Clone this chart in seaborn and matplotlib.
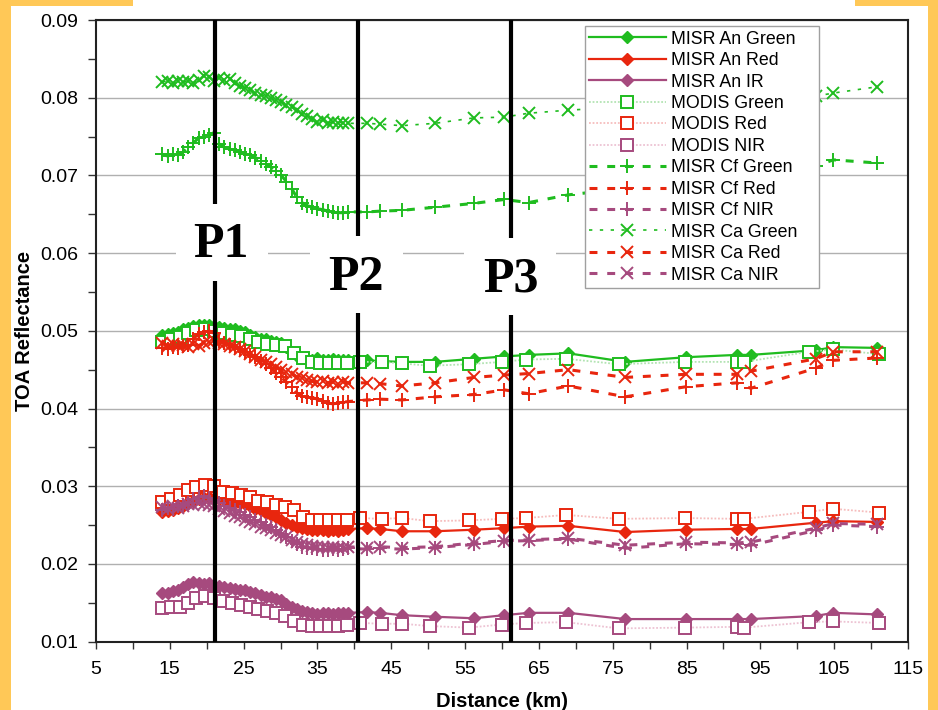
import matplotlib
matplotlib.use("Agg")
import matplotlib.pyplot as plt
from matplotlib.patches import Rectangle
from matplotlib.ticker import FixedLocator, FormatStrFormatter
import seaborn as sns

# ---- distance samples (km) ----
misr_km = [14.0, 14.7, 15.4, 16.1, 16.8, 17.5, 18.2, 18.9, 19.6, 20.3, 21.0, 21.7,
           22.4, 23.1, 23.8, 24.5, 25.2, 25.9, 26.6, 27.3, 28.0, 28.7, 29.4, 30.1,
           30.8, 31.5, 32.2, 32.9, 33.6, 34.3, 35.0, 35.7, 36.4, 37.1, 37.8, 38.5,
           39.2, 41.7, 43.5, 46.4, 50.9, 56.2, 60.3, 63.6, 69.0, 76.7, 84.9, 91.8,
           93.7, 102.5, 104.9, 110.8]
modis_km = [14.0, 15.2, 16.4, 17.5, 18.6, 19.8, 21.0, 22.2, 23.4, 24.6, 25.8, 27.0,
            28.2, 29.4, 30.6, 31.8, 33.0, 34.2, 35.4, 36.6, 37.8, 39.0, 40.8, 43.7,
            46.5, 50.2, 55.5, 60.0, 63.2, 68.7, 75.8, 84.8, 91.8, 92.8, 101.6, 104.8,
            111.1]

# ---- MISR An (nadir camera) ----
an_green = [0.0494, 0.0496, 0.0497, 0.0499, 0.0502, 0.0504, 0.0506, 0.0507, 0.0508, 0.0508,
            0.0506, 0.0505, 0.0504, 0.0502, 0.0502, 0.0500, 0.0498, 0.0495, 0.0492, 0.0490,
            0.0489, 0.0487, 0.0486, 0.0484, 0.0479, 0.0473, 0.0468, 0.0465, 0.0464, 0.0463,
            0.0465, 0.0463, 0.0462, 0.0464, 0.0462, 0.0463, 0.0462, 0.0462, 0.0461, 0.0460,
            0.0460, 0.0464, 0.0467, 0.0469, 0.0471, 0.0460, 0.0466, 0.0469, 0.0469, 0.0475,
            0.0479, 0.0478]
an_red = [0.0267, 0.0268, 0.0270, 0.0272, 0.0275, 0.0278, 0.0281, 0.0283, 0.0285, 0.0286,
          0.0284, 0.0283, 0.0282, 0.0281, 0.0279, 0.0278, 0.0277, 0.0274, 0.0271, 0.0269,
          0.0266, 0.0263, 0.0260, 0.0256, 0.0253, 0.0250, 0.0247, 0.0246, 0.0245, 0.0244,
          0.0243, 0.0244, 0.0242, 0.0243, 0.0242, 0.0244, 0.0245, 0.0246, 0.0245, 0.0242,
          0.0242, 0.0244, 0.0246, 0.0248, 0.0249, 0.0241, 0.0244, 0.0245, 0.0245, 0.0253,
          0.0255, 0.0254]
an_ir = [0.0162, 0.0163, 0.0165, 0.0167, 0.0170, 0.0174, 0.0177, 0.0175, 0.0174, 0.0176,
         0.0172, 0.0171, 0.0170, 0.0169, 0.0168, 0.0167, 0.0166, 0.0164, 0.0162, 0.0160,
         0.0158, 0.0157, 0.0155, 0.0153, 0.0149, 0.0145, 0.0142, 0.0139, 0.0138, 0.0137,
         0.0136, 0.0137, 0.0137, 0.0136, 0.0137, 0.0137, 0.0137, 0.0138, 0.0137, 0.0134,
         0.0132, 0.0130, 0.0134, 0.0137, 0.0137, 0.0129, 0.0129, 0.0129, 0.0129, 0.0133,
         0.0137, 0.0135]

# ---- MODIS ----
modis_green = [0.0486, 0.0489, 0.0492, 0.0497, 0.0501, 0.0502, 0.0500, 0.0497, 0.0495, 0.0493,
               0.0490, 0.0485, 0.0483, 0.0482, 0.0480, 0.0472, 0.0465, 0.0460, 0.0459, 0.0458,
               0.0458, 0.0458, 0.0460, 0.0460, 0.0458, 0.0455, 0.0457, 0.0460, 0.0463, 0.0464,
               0.0457, 0.0460, 0.0460, 0.0460, 0.0473, 0.0476, 0.0470]
modis_red = [0.0280, 0.0284, 0.0289, 0.0295, 0.0299, 0.0302, 0.0300, 0.0293, 0.0291, 0.0289,
             0.0286, 0.0281, 0.0280, 0.0276, 0.0273, 0.0269, 0.0260, 0.0257, 0.0257, 0.0256,
             0.0257, 0.0257, 0.0259, 0.0258, 0.0259, 0.0255, 0.0256, 0.0258, 0.0259, 0.0263,
             0.0258, 0.0259, 0.0258, 0.0258, 0.0267, 0.0271, 0.0266]
modis_nir = [0.0143, 0.0144, 0.0145, 0.0150, 0.0156, 0.0159, 0.0156, 0.0152, 0.0150, 0.0147,
             0.0145, 0.0142, 0.0140, 0.0137, 0.0133, 0.0127, 0.0122, 0.0120, 0.0120, 0.0120,
             0.0120, 0.0121, 0.0124, 0.0123, 0.0123, 0.0120, 0.0118, 0.0122, 0.0124, 0.0125,
             0.0117, 0.0118, 0.0119, 0.0118, 0.0125, 0.0126, 0.0124]

# ---- MISR Cf (70.5 deg forward) ----
cf_green = [0.0727, 0.0725, 0.0727, 0.0726, 0.0730, 0.0737, 0.0742, 0.0748, 0.0750, 0.0752,
            0.0755, 0.0740, 0.0736, 0.0734, 0.0733, 0.0730, 0.0728, 0.0726, 0.0723, 0.0719,
            0.0715, 0.0711, 0.0706, 0.0700, 0.0692, 0.0683, 0.0672, 0.0665, 0.0661, 0.0659,
            0.0657, 0.0656, 0.0654, 0.0653, 0.0652, 0.0652, 0.0653, 0.0653, 0.0654, 0.0655,
            0.0659, 0.0664, 0.0669, 0.0665, 0.0675, 0.0683, 0.0692, 0.0700, 0.0703, 0.0712,
            0.0720, 0.0716]
cf_red = [0.0478, 0.0477, 0.0479, 0.0478, 0.0480, 0.0482, 0.0490, 0.0496, 0.0499, 0.0500,
          0.0497, 0.0487, 0.0484, 0.0482, 0.0479, 0.0476, 0.0473, 0.0469, 0.0466, 0.0461,
          0.0457, 0.0452, 0.0446, 0.0440, 0.0434, 0.0428, 0.0420, 0.0416, 0.0415, 0.0414,
          0.0412, 0.0410, 0.0407, 0.0406, 0.0407, 0.0408, 0.0409, 0.0411, 0.0412, 0.0411,
          0.0415, 0.0418, 0.0424, 0.0419, 0.0429, 0.0415, 0.0428, 0.0433, 0.0426, 0.0452,
          0.0462, 0.0465]
cf_nir = [0.0270, 0.0272, 0.0271, 0.0274, 0.0276, 0.0279, 0.0283, 0.0286, 0.0287, 0.0285,
          0.0282, 0.0278, 0.0275, 0.0272, 0.0270, 0.0267, 0.0263, 0.0260, 0.0257, 0.0254,
          0.0250, 0.0247, 0.0243, 0.0239, 0.0234, 0.0229, 0.0225, 0.0222, 0.0221, 0.0220,
          0.0219, 0.0218, 0.0218, 0.0219, 0.0218, 0.0219, 0.0220, 0.0219, 0.0220, 0.0219,
          0.0221, 0.0225, 0.0229, 0.0230, 0.0232, 0.0220, 0.0226, 0.0225, 0.0224, 0.0243,
          0.0250, 0.0248]

# ---- MISR Ca (26.1 deg aft) ----
ca_green = [0.0820, 0.0822, 0.0819, 0.0821, 0.0820, 0.0822, 0.0819, 0.0823, 0.0828, 0.0826,
            0.0822, 0.0825, 0.0823, 0.0824, 0.0819, 0.0815, 0.0813, 0.0810, 0.0806, 0.0804,
            0.0802, 0.0799, 0.0797, 0.0795, 0.0791, 0.0788, 0.0784, 0.0779, 0.0776, 0.0772,
            0.0769, 0.0771, 0.0767, 0.0769, 0.0768, 0.0768, 0.0767, 0.0767, 0.0766, 0.0764,
            0.0767, 0.0774, 0.0775, 0.0780, 0.0784, 0.0788, 0.0793, 0.0797, 0.0799, 0.0802,
            0.0806, 0.0814]
ca_red = [0.0484, 0.0481, 0.0483, 0.0480, 0.0482, 0.0479, 0.0483, 0.0481, 0.0484, 0.0486,
          0.0488, 0.0484, 0.0483, 0.0481, 0.0479, 0.0477, 0.0474, 0.0470, 0.0466, 0.0463,
          0.0460, 0.0457, 0.0453, 0.0450, 0.0447, 0.0444, 0.0441, 0.0439, 0.0437, 0.0435,
          0.0434, 0.0436, 0.0433, 0.0434, 0.0432, 0.0434, 0.0433, 0.0433, 0.0432, 0.0429,
          0.0433, 0.0440, 0.0443, 0.0445, 0.0450, 0.0440, 0.0444, 0.0444, 0.0448, 0.0464,
          0.0473, 0.0473]
ca_nir = [0.0273, 0.0271, 0.0274, 0.0272, 0.0275, 0.0277, 0.0276, 0.0278, 0.0277, 0.0276,
          0.0274, 0.0271, 0.0268, 0.0265, 0.0262, 0.0260, 0.0257, 0.0254, 0.0251, 0.0248,
          0.0246, 0.0243, 0.0240, 0.0237, 0.0234, 0.0231, 0.0228, 0.0225, 0.0224, 0.0223,
          0.0222, 0.0222, 0.0221, 0.0222, 0.0221, 0.0221, 0.0222, 0.0221, 0.0222, 0.0221,
          0.0222, 0.0227, 0.0230, 0.0231, 0.0233, 0.0224, 0.0228, 0.0227, 0.0228, 0.0246,
          0.0252, 0.0251]

# ---- profile markers ----
profile_names = ["P1", "P2", "P3"]
profile_km = [21.1, 40.45, 61.2]

GREEN = "#1FBC1F"
RED = "#E8260E"
PURPLE = "#A64A7E"
LT_GREEN = "#B3E4B3"
LT_RED = "#F6BDBD"
LT_PURPLE = "#EDC3D3"

plt.rcParams["font.family"] = ["Liberation Sans", "DejaVu Sans"]

fig = plt.figure(figsize=(9.38, 7.10), dpi=100)
fig.patch.set_facecolor("#FFC857")
# white slide panel
fig.add_artist(Rectangle((11 / 938, 0), (928 - 11) / 938, 704 / 710,
                         transform=fig.transFigure, facecolor="white",
                         edgecolor="none", zorder=-2))
fig.add_artist(Rectangle((133 / 938, 0), (855 - 133) / 938, 1.0,
                         transform=fig.transFigure, facecolor="white",
                         edgecolor="none", zorder=-2))

ax = fig.add_axes([96 / 938, (710 - 641.6) / 710, (908 - 96) / 938, 621.6 / 710])
ax.set_facecolor("white")

dash_long = (0, (2.6, 3.2))
dot_short = (0, (2.0, 4.5))
dot_fine = (0, (1.0, 1.0))

series = [
    # label, x, y, line colour, linestyle, lw, marker, ms, edge, face, mew
    ("MISR An Green", misr_km, an_green, GREEN, "-", 1.6, "D", 6.5, GREEN, GREEN, 1.0),
    ("MISR An Red", misr_km, an_red, RED, "-", 1.6, "D", 6.5, RED, RED, 1.0),
    ("MISR An IR", misr_km, an_ir, PURPLE, "-", 1.6, "D", 6.5, PURPLE, PURPLE, 1.0),
    ("MODIS Green", modis_km, modis_green, LT_GREEN, dot_fine, 1.3, "s", 9.0, GREEN, "white", 1.4),
    ("MODIS Red", modis_km, modis_red, LT_RED, dot_fine, 1.3, "s", 9.0, RED, "white", 1.4),
    ("MODIS NIR", modis_km, modis_nir, LT_PURPLE, dot_fine, 1.3, "s", 9.0, PURPLE, "white", 1.4),
    ("MISR Cf Green", misr_km, cf_green, GREEN, dash_long, 2.2, "+", 9.5, GREEN, GREEN, 1.4),
    ("MISR Cf Red", misr_km, cf_red, RED, dash_long, 2.2, "+", 9.5, RED, RED, 1.4),
    ("MISR Cf NIR", misr_km, cf_nir, PURPLE, dash_long, 2.2, "+", 9.5, PURPLE, PURPLE, 1.4),
    ("MISR Ca Green", misr_km, ca_green, GREEN, dot_short, 1.2, "x", 9.0, GREEN, GREEN, 1.4),
    ("MISR Ca Red", misr_km, ca_red, RED, dash_long, 2.2, "x", 9.0, RED, RED, 1.4),
    ("MISR Ca NIR", misr_km, ca_nir, PURPLE, dash_long, 2.2, "x", 9.0, PURPLE, PURPLE, 1.4),
]

for i, (lab, xs, ys, col, ls, lw, mk, ms, mec, mfc, mew) in enumerate(series):
    sns.lineplot(x=xs, y=ys, ax=ax, sort=False, estimator=None, label=lab,
                 color=col, linestyle=ls, linewidth=lw, marker=mk,
                 markersize=ms, markeredgecolor=mec, markerfacecolor=mfc,
                 markeredgewidth=mew, zorder=3 + i * 0.01)

# profile lines with their labels
for name, km in zip(profile_names, profile_km):
    ax.axvline(km, color="black", lw=3.0, zorder=5)

label_boxes = [  # (x0, x1, y0, y1) in data units
    (15.84, 28.30, 0.05641, 0.06632),
    (33.99, 46.59, 0.05229, 0.06220),
    (54.85, 67.31, 0.05203, 0.06194),
]
label_pos = [(21.93, 0.05950), (40.22, 0.05525), (61.22, 0.05512)]
for name, (x0, x1, y0, y1), (tx, ty) in zip(profile_names, label_boxes, label_pos):
    ax.add_patch(Rectangle((x0, y0), x1 - x0, y1 - y0, facecolor="white",
                           edgecolor="none", zorder=6))
    ax.text(tx, ty, name, ha="center", va="baseline", fontsize=36,
            fontweight="bold", family=["Liberation Serif", "DejaVu Serif"],
            color="black", zorder=7)

ax.set_xlim(5, 115)
ax.set_ylim(0.01, 0.09)
ax.xaxis.set_major_locator(FixedLocator(list(range(5, 116, 10))))
ax.xaxis.set_minor_locator(FixedLocator(list(range(10, 111, 10))))
ax.yaxis.set_major_locator(FixedLocator([0.01, 0.02, 0.03, 0.04, 0.05, 0.06, 0.07, 0.08, 0.09]))
ax.yaxis.set_minor_locator(FixedLocator([0.015, 0.025, 0.035, 0.045, 0.055, 0.065, 0.075, 0.085]))
ax.yaxis.set_major_formatter(FormatStrFormatter("%.2f"))
ax.tick_params(axis="both", which="both", direction="out", color="#333333", width=1.0)
ax.tick_params(axis="y", which="both", length=6, pad=7, labelsize=14)
ax.tick_params(axis="x", which="both", length=5, pad=9, labelsize=14)

ax.yaxis.grid(True, which="major", color="#B0B0B0", lw=1.0)
ax.set_axisbelow(True)
for sp in ax.spines.values():
    sp.set_color("#222222")
    sp.set_linewidth(1.5)

ax.set_xlabel("Distance (km)", fontsize=14.5, fontweight="bold", labelpad=10)
ax.set_ylabel("TOA Reflectance", fontsize=14.5, fontweight="bold", labelpad=4)

leg = ax.legend(loc="upper left", bbox_to_anchor=(0.602, 0.0, 0.289, 0.990),
                mode="expand", borderaxespad=0,
                fontsize=12.8, frameon=True, fancybox=False, framealpha=1,
                edgecolor="#A0A0A0", handlelength=4.3, handletextpad=0.3,
                labelspacing=0.25, borderpad=0.25, numpoints=1)
leg.get_frame().set_linewidth(1.0)
leg.set_zorder(10)

fig.savefig("out.png", dpi=100, facecolor=fig.get_facecolor())
